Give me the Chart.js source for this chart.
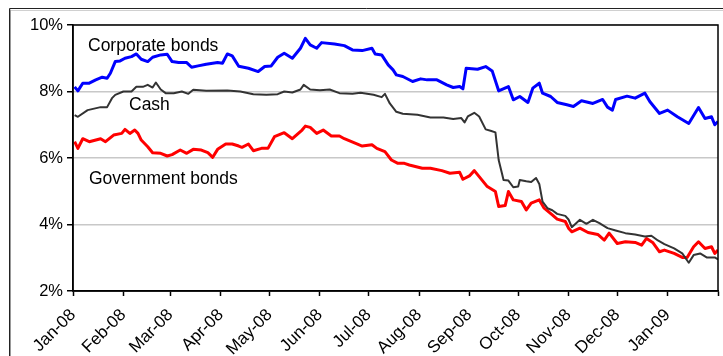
<!DOCTYPE html>
<html>
<head>
<meta charset="utf-8">
<script src="https://cdn.jsdelivr.net/npm/chart.js@4/dist/chart.umd.min.js"></script>
<style>
  html, body { margin: 0; padding: 0; background: #fff; }
  canvas { display: block; }
</style>
</head>
<body>
<canvas id="ratesChart" width="723" height="356"></canvas>
<script>
// days counted from 1 Jan 2008
const monthDays = [0, 31, 60, 91, 121, 152, 182, 213, 244, 274, 305, 335, 366, 397];
const monthLabels = ['Jan-08', 'Feb-08', 'Mar-08', 'Apr-08', 'May-08', 'Jun-08', 'Jul-08',
                     'Aug-08', 'Sep-08', 'Oct-08', 'Nov-08', 'Dec-08', 'Jan-09', ''];

const corpDays = [1, 3, 6, 10, 14, 18, 21, 23, 26, 29, 32, 36, 39, 42, 46, 49, 54, 58, 61, 65,
  70, 73, 77, 82, 89, 92, 95, 98, 102, 108, 114, 118, 122, 126, 130, 135, 140, 143, 146, 150,
  153, 161, 167, 172, 178, 184, 186, 190, 194, 197, 199, 203, 209, 214, 218, 224, 230, 234, 238, 240,
  242, 249, 254, 258, 262, 268, 271, 275, 280, 283, 287, 289, 294, 298, 304, 308, 313, 320, 326, 329,
  332, 334, 341, 346, 352, 355, 361, 366, 372, 379, 385, 389, 393, 395, 397];
const corpRates = [8.14, 8.02, 8.25, 8.25, 8.35, 8.43, 8.40, 8.55, 8.90, 8.92, 9.00, 9.05, 9.13, 8.97, 8.90, 9.03, 9.10, 9.12, 8.90, 8.87,
  8.87, 8.73, 8.77, 8.82, 8.87, 8.85, 9.13, 9.07, 8.76, 8.70, 8.60, 8.75, 8.77, 9.03, 9.15, 9.00, 9.30, 9.60, 9.40, 9.30,
  9.47, 9.43, 9.38, 9.25, 9.23, 9.30, 9.13, 9.10, 8.80, 8.65, 8.50, 8.45, 8.30, 8.38, 8.35, 8.35, 8.20, 8.12, 8.15, 8.08,
  8.70, 8.67, 8.75, 8.62, 8.02, 8.15, 7.75, 7.85, 7.67, 8.10, 8.25, 7.95, 7.85, 7.67, 7.60, 7.55, 7.72, 7.64, 7.76, 7.53,
  7.44, 7.76, 7.86, 7.80, 7.95, 7.70, 7.34, 7.44, 7.24, 7.04, 7.52, 7.19, 7.24, 7.00, 7.10];

const cashDays = [1, 3, 9, 17, 21, 24, 26, 31, 36, 39, 43, 46, 49, 51, 54, 57, 62, 67, 71, 74,
  82, 95, 103, 111, 119, 126, 130, 135, 140, 142, 146, 152, 158, 164, 172, 177, 185, 190, 192, 195,
  199, 203, 212, 220, 228, 234, 239, 241, 243, 247, 250, 254, 257, 260, 262, 264, 265, 268, 271, 274,
  275, 279, 282, 285, 287, 289, 292, 295, 298, 303, 305, 307, 312, 316, 320, 324, 329, 334, 340, 346,
  352, 356, 360, 364, 370, 375, 379, 382, 386, 390, 395, 397];
const cashRates = [7.29, 7.24, 7.44, 7.53, 7.53, 7.80, 7.90, 8.00, 8.00, 8.14, 8.14, 8.20, 8.12, 8.27, 8.06, 7.95, 7.95, 8.00, 7.93, 8.05,
  8.02, 8.03, 8.00, 7.92, 7.90, 7.92, 8.00, 7.97, 8.06, 8.20, 8.06, 8.04, 8.06, 7.95, 7.93, 7.96, 7.90, 7.83, 7.93, 7.64,
  7.39, 7.33, 7.30, 7.22, 7.22, 7.17, 7.20, 7.07, 7.25, 7.36, 7.25, 6.86, 6.82, 6.77, 5.94, 5.54, 5.34, 5.32, 5.12, 5.14,
  5.34, 5.30, 5.28, 5.40, 5.22, 4.69, 4.49, 4.43, 4.32, 4.26, 4.15, 3.92, 4.14, 4.02, 4.14, 4.04, 3.89, 3.82, 3.74, 3.70,
  3.64, 3.66, 3.52, 3.41, 3.28, 3.13, 2.85, 3.08, 3.13, 3.01, 3.01, 2.95];

const govDays = [1, 3, 6, 10, 17, 20, 25, 30, 32, 35, 38, 40, 42, 46, 49, 54, 58, 61, 66, 70,
  74, 79, 83, 86, 89, 94, 98, 102, 104, 108, 111, 116, 120, 124, 130, 135, 141, 143, 146, 150,
  154, 159, 164, 167, 174, 178, 184, 187, 192, 196, 200, 204, 207, 215, 220, 227, 232, 238, 240, 244,
  247, 250, 255, 260, 262, 266, 268, 271, 276, 279, 282, 287, 290, 295, 298, 303, 305, 307, 312, 317,
  323, 327, 330, 335, 340, 346, 350, 353, 357, 361, 364, 370, 375, 378, 382, 385, 389, 393, 395, 397];
const govRates = [6.49, 6.29, 6.58, 6.49, 6.58, 6.49, 6.69, 6.74, 6.86, 6.74, 6.84, 6.74, 6.54, 6.34, 6.16, 6.14, 6.06, 6.10, 6.24, 6.14,
  6.26, 6.24, 6.16, 6.02, 6.26, 6.42, 6.42, 6.36, 6.32, 6.42, 6.22, 6.29, 6.29, 6.64, 6.76, 6.58, 6.84, 6.96, 6.92, 6.74,
  6.84, 6.66, 6.66, 6.58, 6.44, 6.36, 6.40, 6.29, 6.19, 5.94, 5.84, 5.84, 5.79, 5.69, 5.69, 5.62, 5.54, 5.57, 5.36, 5.46,
  5.62, 5.44, 5.14, 4.99, 4.54, 4.57, 4.99, 4.74, 4.69, 4.44, 4.64, 4.74, 4.49, 4.29, 4.16, 4.09, 3.89, 3.78, 3.89, 3.76,
  3.70, 3.53, 3.74, 3.43, 3.48, 3.46, 3.38, 3.58, 3.45, 3.18, 3.23, 3.13, 3.01, 3.01, 3.33, 3.48, 3.28, 3.33, 3.13, 3.23];

const FONT = "'Liberation Sans', Arial, sans-serif";

function toPoints(days, rates) {
    return days.map((d, i) => ({ x: d, y: rates[i] }));
}

// marco exterior, borde del area de trazado y etiquetas de series
const decoPlugin = {
    id: 'deco',
    beforeDraw(chart) {
        const ctx = chart.ctx;
        ctx.save();
        ctx.strokeStyle = '#d0d0d0';
        ctx.lineWidth = 1;
        ctx.beginPath();
        ctx.moveTo(11, 10.5); ctx.lineTo(723, 10.5);
        ctx.stroke();
        ctx.strokeStyle = '#222';
        ctx.beginPath();
        ctx.moveTo(9.5, 356); ctx.lineTo(9.5, 8.5); ctx.lineTo(723, 8.5);
        ctx.stroke();
        ctx.strokeStyle = '#999';
        ctx.beginPath();
        ctx.moveTo(10.5, 356); ctx.lineTo(10.5, 9.5);
        ctx.stroke();
        ctx.restore();
    },
    afterDraw(chart) {
        const ctx = chart.ctx;
        const a = chart.chartArea;
        ctx.save();
        ctx.strokeStyle = '#000';
        ctx.lineWidth = 1.5;
        ctx.strokeRect(a.left, a.top, a.right - a.left, a.bottom - a.top);
        ctx.fillStyle = '#000';
        ctx.font = '17.5px ' + FONT;
        ctx.textBaseline = 'alphabetic';
        ctx.fillText('Corporate bonds', 88, 51);
        ctx.fillText('Cash', 129, 110);
        ctx.fillText('Government bonds', 89, 184);
        ctx.restore();
    }
};

const ctx = document.getElementById('ratesChart').getContext('2d');
new Chart(ctx, {
    type: 'line',
    data: {
        datasets: [
            { label: 'Corporate bonds', data: toPoints(corpDays, corpRates), borderColor: '#0000ff', borderWidth: 3 },
            { label: 'Cash', data: toPoints(cashDays, cashRates), borderColor: '#333333', borderWidth: 2 },
            { label: 'Government bonds', data: toPoints(govDays, govRates), borderColor: '#ff0000', borderWidth: 3 }
        ]
    },
    options: {
        responsive: false,
        devicePixelRatio: 1,
        animation: false,
        layout: { padding: { left: 0, top: 25, right: 5, bottom: 0 } },
        elements: { point: { radius: 0 }, line: { tension: 0, borderJoinStyle: 'round' } },
        plugins: { legend: { display: false }, tooltip: { enabled: false } },
        scales: {
            x: {
                type: 'linear',
                min: 0,
                max: 397,
                afterBuildTicks(scale) {
                    scale.ticks = monthDays.map(v => ({ value: v }));
                },
                afterFit(scale) {
                    scale.height = 65;
                    scale.paddingLeft = 0;
                    scale.paddingRight = 0;
                },
                border: { color: '#000', width: 1.5 },
                grid: { drawOnChartArea: false, drawTicks: true, tickLength: 5, tickColor: '#000', tickWidth: 1.5 },
                ticks: {
                    autoSkip: false,
                    minRotation: 45,
                    maxRotation: 45,
                    padding: 9,
                    color: '#000',
                    font: { family: FONT, size: 17 },
                    callback(value) {
                        const i = monthDays.indexOf(value);
                        return i >= 0 ? monthLabels[i] : '';
                    }
                }
            },
            y: {
                min: 2,
                max: 10,
                afterFit(scale) {
                    scale.width = 73;
                    scale.paddingTop = 0;
                    scale.paddingBottom = 0;
                },
                border: { color: '#000', width: 1.5 },
                grid: { color: '#c8c8c8', lineWidth: 1.5, tickLength: 6, tickColor: '#000', tickWidth: 1.5 },
                ticks: {
                    stepSize: 2,
                    padding: 4,
                    color: '#000',
                    font: { family: FONT, size: 16.5 },
                    callback: v => v + '%'
                }
            }
        }
    },
    plugins: [decoPlugin]
});
</script>
</body>
</html>
